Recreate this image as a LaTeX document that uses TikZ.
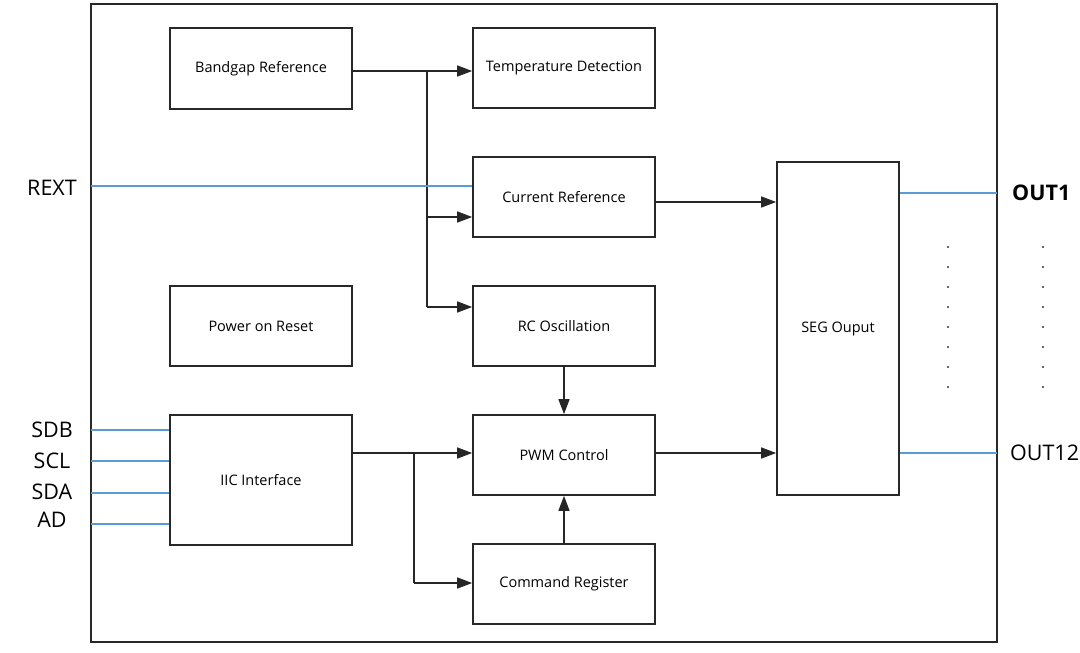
\documentclass[tikz,border=0pt]{standalone}
\usepackage{fontspec}
\setmainfont{Open Sans}
\usetikzlibrary{arrows.meta}
\definecolor{sigblue}{RGB}{91,155,213}
\definecolor{boxline}{RGB}{40,40,40}
\tikzset{
  blk/.style={draw=boxline, line width=1.7pt, font=\fontsize{14.5}{17}\selectfont, inner sep=0pt},
  conn/.style={draw=black!85, line width=1.5pt, -{Triangle[length=15pt,width=11pt]}},
  wire/.style={draw=black!85, line width=1.5pt},
  sig/.style={draw=sigblue, line width=1.5pt},
  lbl/.style={font=\fontsize{21.5}{25}\selectfont, inner sep=0pt},
  dotm/.style={fill=black!80, circle, inner sep=0pt, minimum size=2.4pt}
}
\begin{document}
\begin{tikzpicture}[x=1pt,y=-1pt]
\useasboundingbox (0,0) rectangle (1080,653);
\draw[boxline, line width=1.7pt] (91,4) rectangle (997,642);
% blocks
\node[blk, minimum width=182pt, minimum height=81pt] (bg) at (261,68.5) {Bandgap Reference};
\node[blk, minimum width=182pt, minimum height=80pt] (td) at (564,68) {Temperature Detection};
\node[blk, minimum width=182pt, minimum height=80pt] (cr) at (564,197) {Current Reference};
\node[blk, minimum width=182pt, minimum height=80pt] (rc) at (564,326) {RC Oscillation};
\node[blk, minimum width=182pt, minimum height=80pt] (por) at (261,326) {Power on Reset};
\node[blk, minimum width=182pt, minimum height=130pt] (iic) at (261,480) {IIC Interface};
\node[blk, minimum width=182pt, minimum height=80pt] (pwm) at (564,455) {PWM Control};
\node[blk, minimum width=182pt, minimum height=80pt] (cmd) at (564,584) {Command Register};
\node[blk, minimum width=122pt, minimum height=333pt] (seg) at (838,328.5) {SEG Ouput};
% coordinates
\coordinate (j1) at (427,71);
\coordinate (j2) at (427,217);
\coordinate (j3) at (427,307);
\coordinate (k1) at (414,453);
\coordinate (k2) at (414,583);
% connectors
\draw[wire] (bg.east |- j1) -- (j1);
\draw[conn] (j1) -- (td.west |- j1);
\draw[wire] (j1) -- (j3);
\draw[conn] (j2) -- (cr.west |- j2);
\draw[conn] (j3) -- (rc.west |- j3);
\draw[conn] (cr.east |- 0,202) -- (seg.west |- 0,202);
\draw[conn] (pwm.east |- 0,453) -- (seg.west |- 0,453);
\draw[wire] (iic.east |- k1) -- (k1);
\draw[conn] (k1) -- (pwm.west |- k1);
\draw[wire] (k1) -- (k2);
\draw[conn] (k2) -- (cmd.west |- k2);
\draw[conn] (rc.south) -- (pwm.north);
\draw[conn] (cmd.north) -- (pwm.south);
% signals
\coordinate (rx) at (91,186);
\draw[sig] (rx) -- (cr.west |- rx);
\foreach \yy/\nm in {430/sdb,461/scl,493/sda,524/ad}{
  \coordinate (\nm) at (91,\yy);
  \draw[sig] (\nm) -- (iic.west |- \nm);
}
\coordinate (o1) at (997,193);
\coordinate (o12) at (997,453);
\draw[sig] (seg.east |- o1) -- (o1);
\draw[sig] (seg.east |- o12) -- (o12);
% labels
\node[lbl] (lrext) at (52,188) {REXT};
\node[lbl] (lsdb) at (52,430) {SDB};
\node[lbl] (lscl) at (52,461) {SCL};
\node[lbl] (lsda) at (52,492) {SDA};
\node[lbl] (lad) at (52,520) {AD};
\node[lbl, anchor=west, font=\fontsize{21.5}{25}\selectfont\bfseries] (lo1) at (1012,193) {OUT1};
\node[lbl, anchor=west] (lo12) at (1010,453) {OUT12};
% dots
\foreach \i in {0,...,7}{
  \node[dotm] (da\i) at (948,247+20*\i) {};
  \node[dotm] (db\i) at (1043,247+20*\i) {};
}
\end{tikzpicture}
\end{document}
